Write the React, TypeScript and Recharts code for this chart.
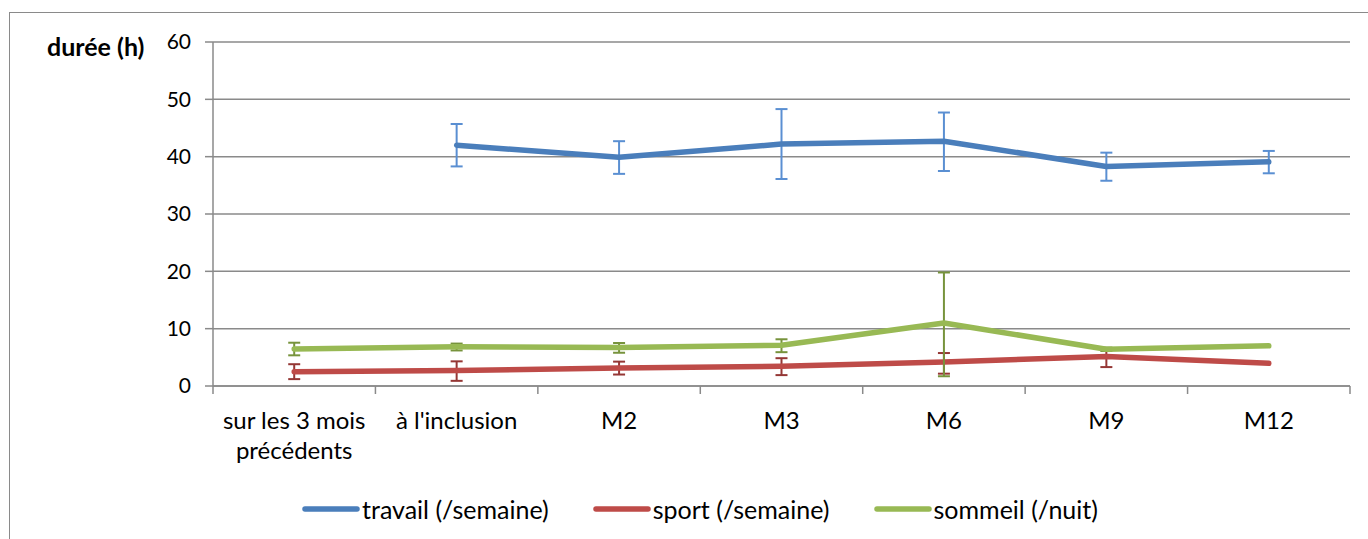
import React from 'react';
import { LineChart, Line, XAxis, YAxis, CartesianGrid, ErrorBar } from 'recharts';

const categories = ['sur les 3 mois\nprécédents', "à l'inclusion", 'M2', 'M3', 'M6', 'M9', 'M12'];
const yTicks = [0, 10, 20, 30, 40, 50, 60];

const travail = [null, 42.0, 39.9, 42.2, 42.7, 38.3, 39.1];
const travailLow = [null, 38.3, 37.0, 36.1, 37.5, 35.8, 37.1];
const travailHigh = [null, 45.7, 42.7, 48.3, 47.7, 40.7, 41.0];

const sport = [2.5, 2.7, 3.15, 3.45, 4.2, 5.15, 3.95];
const sportLow = [1.2, 0.9, 2.0, 1.9, 2.15, 3.3, null];
const sportHigh = [3.8, 4.3, 4.25, 4.85, 5.75, 6.6, null];

const sommeil = [6.45, 6.85, 6.7, 7.1, 11.0, 6.4, 7.0];
const sommeilLow = [5.35, 6.2, 5.8, 5.9, 1.7, 6.1, null];
const sommeilHigh = [7.55, 7.4, 7.5, 8.15, 19.8, 6.7, null];

const series = [
  { key: 'travail', name: 'travail (/semaine)', color: '#4a7ebb', errColor: '#5a8fd2' },
  { key: 'sport', name: 'sport (/semaine)', color: '#be4b48', errColor: '#953735' },
  { key: 'sommeil', name: 'sommeil (/nuit)', color: '#98b954', errColor: '#77933c' },
];

const err = (v: number | null, lo: number | null, hi: number | null) =>
  v == null || lo == null || hi == null ? undefined : [v - lo, hi - v];

const data = categories.map((cat, i) => ({
  cat,
  travail: travail[i],
  travailErr: err(travail[i], travailLow[i], travailHigh[i]),
  sport: sport[i],
  sportErr: err(sport[i], sportLow[i], sportHigh[i]),
  sommeil: sommeil[i],
  sommeilErr: err(sommeil[i], sommeilLow[i], sommeilHigh[i]),
}));

const W = 1368;
const H = 539;
const PLOT_LEFT = 213;
const PLOT_RIGHT = 1350;
const PLOT_TOP = 42;
const PLOT_BOTTOM = 386;
const Y_AXIS_W = 60;
const X_AXIS_H = 90;
const BAND = (PLOT_RIGHT - PLOT_LEFT) / categories.length;
const AXIS_GREY = '#8a8a8a';

function CatTick(props: any) {
  const { x, y, payload, index } = props;
  const lines = String(payload.value).split('\n');
  return (
    <g>
      <line x1={x - BAND / 2} x2={x - BAND / 2} y1={y} y2={y + 8} stroke={AXIS_GREY} strokeWidth={1.5} />
      {index === categories.length - 1 && (
        <line x1={x + BAND / 2} x2={x + BAND / 2} y1={y} y2={y + 8} stroke={AXIS_GREY} strokeWidth={1.5} />
      )}
      <text x={x} y={y + 43} textAnchor="middle" fontSize={24} fill="#000">
        {lines.map((l, i) => (
          <tspan key={i} x={x} dy={i === 0 ? 0 : 30}>
            {l}
          </tspan>
        ))}
      </text>
    </g>
  );
}

export default function App() {
  return (
    <div
      style={{
        position: 'fixed',
        left: 0,
        top: 0,
        width: W,
        height: H,
        background: '#fff',
        fontFamily: 'Lato, "Open Sans", sans-serif',
        overflow: 'hidden',
      }}
    >
      <div
        style={{
          position: 'absolute',
          left: 9,
          top: 12,
          width: W,
          height: H,
          border: `1.5px solid ${AXIS_GREY}`,
          boxSizing: 'border-box',
        }}
      />
      <div
        style={{
          position: 'absolute',
          left: 47,
          top: 31,
          fontSize: 25,
          fontWeight: 'bold',
          color: '#000',
        }}
      >
        durée (h)
      </div>
      <div style={{ position: 'absolute', left: 0, top: 0 }}>
        <LineChart
          width={W}
          height={H}
          data={data}
          margin={{
            top: PLOT_TOP,
            left: PLOT_LEFT - Y_AXIS_W,
            right: W - PLOT_RIGHT,
            bottom: H - PLOT_BOTTOM - X_AXIS_H,
          }}
        >
          <CartesianGrid vertical={false} stroke={AXIS_GREY} strokeWidth={1.5} />
          <XAxis
            dataKey="cat"
            height={X_AXIS_H}
            interval={0}
            padding={{ left: BAND / 2, right: BAND / 2 }}
            tickLine={false}
            tickSize={0}
            tickMargin={0}
            axisLine={{ stroke: AXIS_GREY, strokeWidth: 1.5 }}
            tick={<CatTick />}
          />
          <YAxis
            width={Y_AXIS_W}
            domain={[0, 60]}
            ticks={yTicks}
            interval={0}
            tickSize={8}
            tickMargin={14}
            axisLine={{ stroke: AXIS_GREY, strokeWidth: 1.5 }}
            tickLine={{ stroke: AXIS_GREY, strokeWidth: 1.5 }}
            tick={{ fill: '#000', fontSize: 21 }}
          />
          {series.map((s) => (
            <Line
              key={s.key}
              dataKey={s.key}
              name={s.name}
              type="linear"
              stroke={s.color}
              strokeWidth={5.5}
              strokeLinecap="round"
              strokeLinejoin="round"
              dot={false}
              activeDot={false}
              isAnimationActive={false}
            >
              <ErrorBar
                dataKey={`${s.key}Err`}
                direction="y"
                width={6}
                stroke={s.errColor}
                strokeWidth={2}
                isAnimationActive={false}
              />
            </Line>
          ))}
        </LineChart>
      </div>
      <div
        style={{
          position: 'absolute',
          top: 494,
          left: 0,
          width: W,
          display: 'flex',
          justifyContent: 'center',
          paddingLeft: 32,
          boxSizing: 'border-box',
          gap: 44,
          fontSize: 25,
          color: '#000',
        }}
      >
        {series.map((s) => (
          <div key={s.key} style={{ display: 'flex', alignItems: 'center' }}>
            <svg width={58} height={10} style={{ marginRight: 2 }}>
              <line x1={3} x2={55} y1={5} y2={5} stroke={s.color} strokeWidth={5.5} strokeLinecap="round" />
            </svg>
            <span>{s.name}</span>
          </div>
        ))}
      </div>
    </div>
  );
}
